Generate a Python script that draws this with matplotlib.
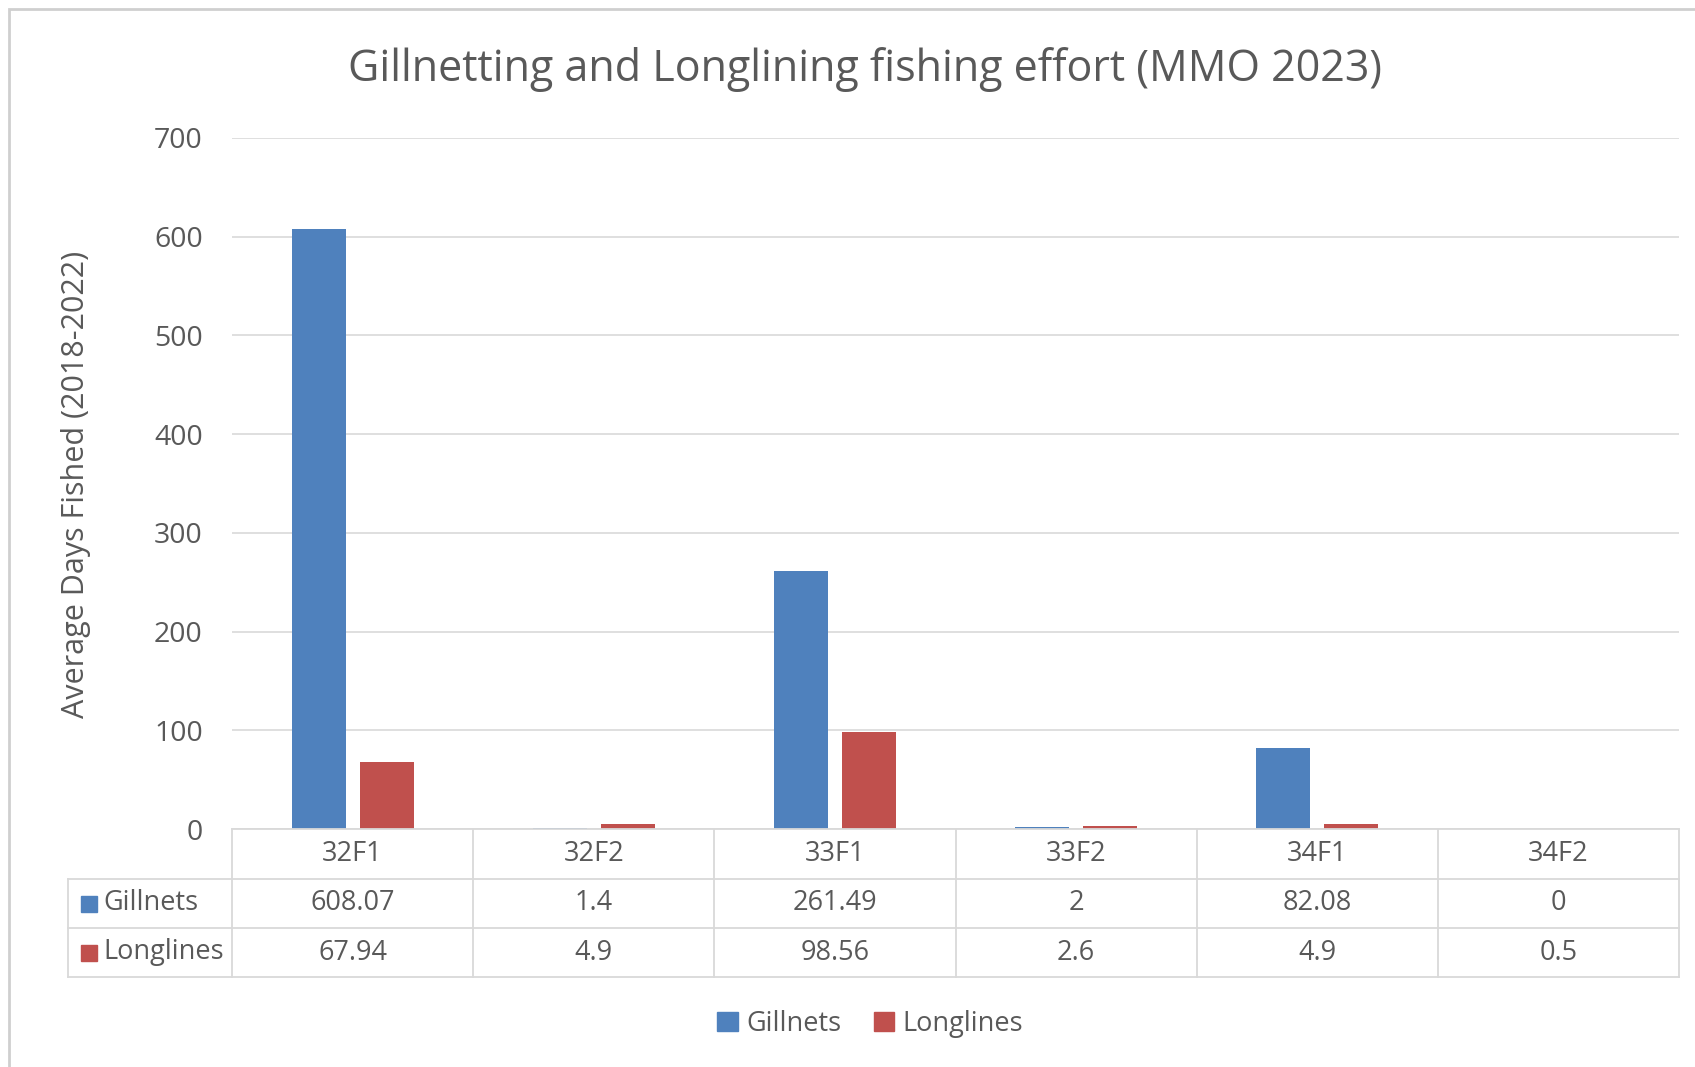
import matplotlib
matplotlib.use("Agg")
import matplotlib.pyplot as plt
from matplotlib.patches import Rectangle, Patch
from matplotlib.lines import Line2D
import matplotlib.transforms as mtransforms
import numpy as np

categories = ["32F1", "32F2", "33F1", "33F2", "34F1", "34F2"]
gillnets = [608.07, 1.4, 261.49, 2, 82.08, 0]
longlines = [67.94, 4.9, 98.56, 2.6, 4.9, 0.5]
gill_labels = ["608.07", "1.4", "261.49", "2", "82.08", "0"]
long_labels = ["67.94", "4.9", "98.56", "2.6", "4.9", "0.5"]
series_names = ["Gillnets", "Longlines"]
yticks = [0, 100, 200, 300, 400, 500, 600, 700]

BLUE = "#4F81BD"
RED = "#C0504D"
TXT = "#595959"
GRID = "#D9D9D9"
FONT = "Open Sans"

W, H = 1695, 1067
fig = plt.figure(figsize=(W / 100, H / 100), dpi=100)
plt.rcParams['font.family'] = [FONT, 'DejaVu Sans']

def fx(px):
    return px / W

def fy(py):
    return 1 - py / H

left, right, top, bottom = 232, 1679, 138, 829
ax = fig.add_axes([fx(left), fy(bottom), fx(right) - fx(left), fy(top) - fy(bottom)])

x = np.arange(len(categories))
bw = 0.224
off = 0.141
ax.bar(x - off, gillnets, bw, color=BLUE, zorder=3)
ax.bar(x + off, longlines, bw, color=RED, zorder=3)

ax.set_xlim(-0.5, len(categories) - 0.5)
ax.set_ylim(0, 700)
ax.set_yticks(yticks)
ax.set_yticklabels([str(t) for t in yticks], fontsize=20.5, color=TXT)
ax.tick_params(axis='y', length=0, pad=21)
ax.set_xticks([])
ax.grid(axis='y', color=GRID, linewidth=1.2, zorder=0)
for s in ["left", "right", "top", "bottom"]:
    ax.spines[s].set_visible(False)

fig.text(fx(76), fy(484), "Average Days Fished (2018-2022)", rotation=90,
         ha='center', va='center', fontsize=22, color=TXT)

fig.text(fx(865), fy(70), "Gillnetting and Longlining fishing effort (MMO 2023)",
         ha='center', va='center', fontsize=31, color=TXT)

# Table
tr = mtransforms.blended_transform_factory(ax.transData, fig.transFigure)
rows_y = [829, 879, 928, 977]
line_kw = dict(color=GRID, linewidth=1.3, clip_on=False)
fig.add_artist(Line2D([fx(left), fx(right)], [fy(rows_y[0])] * 2, **line_kw))
for ry in rows_y[1:]:
    fig.add_artist(Line2D([fx(68), fx(right)], [fy(ry)] * 2, **line_kw))
for b in np.arange(-0.5, len(categories)):
    fig.add_artist(Line2D([b, b], [fy(rows_y[0]), fy(rows_y[3])], transform=tr, **line_kw))
fig.add_artist(Line2D([fx(68), fx(68)], [fy(rows_y[1]), fy(rows_y[3])], **line_kw))

TFS = 19.5
cy = [(rows_y[i] + rows_y[i + 1]) / 2 for i in range(3)]
for i, c in enumerate(categories):
    fig.text(i, fy(cy[0]), c, transform=tr, ha='center', va='center', fontsize=TFS, color=TXT)
    fig.text(i, fy(cy[1]), gill_labels[i], transform=tr, ha='center', va='center', fontsize=TFS, color=TXT)
    fig.text(i, fy(cy[2]), long_labels[i], transform=tr, ha='center', va='center', fontsize=TFS, color=TXT)

for r, (name, col) in enumerate(zip(series_names, [BLUE, RED])):
    yc = cy[r + 1]
    fig.add_artist(Rectangle((fx(81), fy(yc + 8)), fx(16), 16 / H, color=col,
                             transform=fig.transFigure))
    fig.text(fx(103), fy(yc), name, ha='left', va='center', fontsize=TFS, color=TXT)

# Legend
handles = [Patch(color=BLUE, label=series_names[0]), Patch(color=RED, label=series_names[1])]
fig.legend(handles=handles, loc='center', bbox_to_anchor=(fx(870), fy(1024)), ncol=2,
           frameon=False, fontsize=TFS, labelcolor=TXT, handlelength=0.75, handleheight=0.75,
           handletextpad=0.3, columnspacing=1.2)

# outer frame
fig.add_artist(Rectangle((fx(9), fy(H + 20)), fx(W + 20), (H + 20 - 9) / H, fill=False,
                         edgecolor="#CFCFCF", linewidth=2, transform=fig.transFigure))

fig.savefig("out.png", dpi=100, facecolor="white")
